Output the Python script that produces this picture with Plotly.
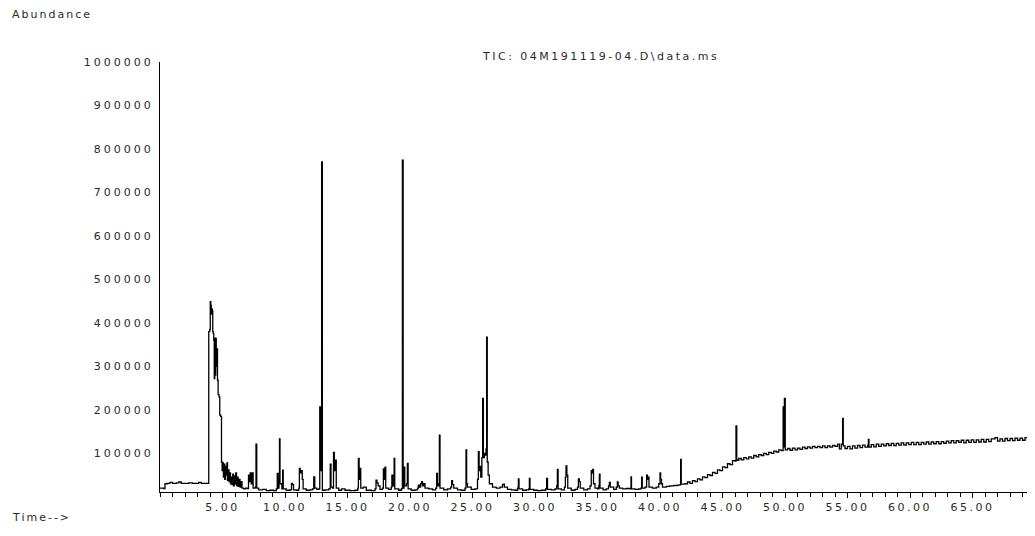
import plotly.graph_objects as go

# Retention time (min) and abundance (thousands of counts)
time_min = [
    0.0, 0.3, 0.4, 0.6, 0.8, 1.0, 1.3, 1.5, 1.7, 2.0, 2.3, 2.6, 2.9, 3.1, 3.3, 3.6, 3.85,
    3.9, 3.98, 4.02, 4.06, 4.1, 4.14, 4.18, 4.22, 4.26, 4.3, 4.34, 4.38, 4.42, 4.46, 4.5,
    4.55, 4.6, 4.65, 4.72, 4.78, 4.85, 4.92, 4.97, 5.02, 5.07, 5.12, 5.18, 5.24, 5.3,
    5.35, 5.4, 5.46, 5.52, 5.58, 5.64, 5.7, 5.76, 5.82, 5.88, 5.94, 6.0, 6.06, 6.12,
    6.18, 6.25, 6.32, 6.4, 6.48, 6.56, 6.7, 6.85, 7.0, 7.08, 7.15, 7.22, 7.3, 7.38,
    7.45, 7.62, 7.68, 7.74, 7.9, 8.2, 8.5, 8.8, 9.1, 9.3, 9.38, 9.45, 9.52, 9.56, 9.6,
    9.75, 9.81, 9.86, 10.1, 10.4, 10.52, 10.6, 10.68, 10.9, 11.1, 11.15, 11.22, 11.3,
    11.38, 11.45, 11.7, 12.0, 12.2, 12.3, 12.38, 12.55, 12.7, 12.78, 12.86, 12.93,
    12.99, 13.2, 13.5, 13.62, 13.68, 13.8, 13.88, 13.95, 14.02, 14.1, 14.3, 14.53,
    14.8, 15.2, 15.6, 15.82, 15.87, 15.93, 16.0, 16.06, 16.27, 16.5, 16.9, 17.2, 17.28,
    17.35, 17.45, 17.6, 17.8, 17.87, 17.93, 18.0, 18.06, 18.3, 18.5, 18.55, 18.62, 18.7,
    18.73, 18.78, 19.1, 19.3, 19.39, 19.45, 19.52, 19.58, 19.72, 19.79, 19.85, 20.1,
    20.4, 20.6, 20.67, 20.75, 20.85, 20.93, 21.0, 21.1, 21.2, 21.5, 21.8, 22.05, 22.13,
    22.2, 22.3, 22.35, 22.4, 22.7, 23.0, 23.25, 23.33, 23.4, 23.5, 23.8, 24.1, 24.4,
    24.48, 24.53, 24.6, 24.9, 25.2, 25.4, 25.47, 25.53, 25.6, 25.66, 25.75, 25.81,
    25.87, 25.95, 26.02, 26.08, 26.13, 26.18, 26.25, 26.35, 26.6, 26.9, 27.2, 27.4,
    27.47, 27.55, 27.8, 28.1, 28.4, 28.6, 28.67, 28.72, 29.0, 29.3, 29.5, 29.55, 29.6,
    29.9, 30.2, 30.5, 30.85, 30.93, 31.0, 31.3, 31.6, 31.73, 31.79, 31.85, 32.1, 32.35,
    32.43, 32.48, 32.55, 32.62, 32.9, 33.2, 33.4, 33.47, 33.55, 33.62, 33.9, 34.2, 34.4,
    34.5, 34.55, 34.61, 34.68, 34.8, 35.0, 35.1, 35.15, 35.2, 35.45, 35.7, 35.88, 35.95,
    36.02, 36.3, 36.5, 36.59, 36.65, 36.75, 37.0, 37.3, 37.6, 37.68, 37.72, 38.0, 38.3,
    38.48, 38.53, 38.58, 38.8, 38.93, 39.0, 39.05, 39.12, 39.4, 39.7, 39.9, 40.0, 40.05,
    40.12, 40.2, 40.5, 40.8, 41.1, 41.4, 41.6, 41.65, 41.7,
    42.0, 42.2, 42.4, 42.6, 42.8, 43.0, 43.2, 43.4, 43.6, 43.8, 44.0, 44.2, 44.4, 44.6,
    44.8, 45.0, 45.2, 45.4, 45.6, 45.8, 46.0, 46.08, 46.14, 46.3, 46.5, 46.7, 46.9, 47.1,
    47.3, 47.5, 47.7, 47.9, 48.1, 48.3, 48.5, 48.7, 48.9, 49.1, 49.3, 49.5, 49.7, 49.85,
    49.9, 49.95, 50.02, 50.2, 50.4, 50.6, 50.8, 51.0, 51.2, 51.4, 51.6, 51.8, 52.0, 52.2,
    52.4, 52.6, 52.8, 53.0, 53.2, 53.4, 53.6, 53.8, 54.0, 54.2, 54.35, 54.5, 54.61, 54.66,
    54.8, 55.0, 55.2, 55.4, 55.6, 55.8, 56.0, 56.2, 56.4, 56.62, 56.67, 56.72, 56.9, 57.1,
    57.3, 57.5, 57.7, 57.9, 58.1, 58.3, 58.5, 58.7, 58.9, 59.1, 59.3, 59.5, 59.7, 59.9,
    60.1, 60.3, 60.5, 60.7, 60.9, 61.1, 61.3, 61.5, 61.7, 61.9, 62.1, 62.3, 62.5, 62.7,
    62.9, 63.1, 63.3, 63.5, 63.7, 63.9, 64.1, 64.3, 64.5, 64.7, 64.9, 65.1, 65.3, 65.5,
    65.7, 65.9, 66.1, 66.3, 66.5, 66.8, 67.0, 67.2, 67.4, 67.6, 67.8, 68.0, 68.2, 68.4,
    68.6, 68.8, 69.0, 69.2, 69.4, 69.6, 69.8, 70.0,
]

abundance_k = [
    20, 19, 30, 31, 33, 31, 32, 34, 31, 31, 32, 31, 31, 33, 31, 31, 31,
    380, 385, 449, 440, 420, 432, 428, 380, 376, 360, 272, 365, 280, 364, 300,
    340, 268, 235, 230, 188, 185, 80, 60, 78, 45, 75, 40, 70, 50,
    78, 38, 62, 35, 55, 30, 45, 28, 52, 25, 48, 30, 55, 26,
    45, 24, 40, 22, 35, 20, 18, 20, 19, 50, 35, 55, 30, 55,
    20, 22, 121, 20, 16, 17, 14, 15, 14, 18, 54, 20, 40, 133, 30,
    18, 61, 18, 15, 16, 31, 28, 16, 15, 20, 65, 55, 60,
    40, 18, 15, 16, 18, 46, 20, 17, 18, 207, 60, 770,
    15, 16, 18, 75, 22, 20, 102, 60, 84, 20, 15, 18,
    15, 14, 15, 20, 88, 40, 65, 20, 22, 15, 14, 18, 38,
    32, 25, 17, 20, 64, 40, 68, 20, 17, 22, 50, 25, 30,
    88, 18, 15, 18, 774, 20, 68, 25, 30, 77, 18, 15,
    16, 20, 27, 22, 30, 35, 25, 30, 20, 18, 16, 20, 54,
    25, 30, 142, 20, 16, 18, 22, 37, 28, 20, 16, 15, 20,
    108, 30, 22, 17, 18, 40, 104, 60, 70, 45, 90, 226,
    90, 100, 96, 110, 367, 80, 50, 30, 22, 20, 22, 28,
    29, 22, 17, 16, 15, 20, 41, 18, 15, 16, 18, 42, 17,
    15, 14, 15, 18, 42, 17, 16, 18, 25, 63, 18, 16, 22,
    45, 71, 50, 20, 15, 17, 22, 41, 35, 20, 16, 18, 25,
    60, 55, 63, 30, 20, 18, 25, 52, 20, 16, 18, 25, 33,
    22, 17, 22, 34, 25, 20, 18, 19, 18, 46, 18, 17, 18,
    20, 45, 20, 22, 50, 40, 45, 22, 20, 22, 30, 55, 40,
    30, 22, 24, 25, 26, 27, 28, 86, 29,
    30, 34, 31, 37, 35, 41, 39, 46, 44, 51, 49, 56, 54, 62,
    60, 69, 67, 76, 74, 83, 82, 163, 84, 88, 85, 90, 87, 92,
    89, 95, 92, 97, 95, 100, 97, 102, 100, 105, 103, 108, 106, 207,
    115, 226, 108, 111, 107, 112, 108, 112, 109, 114, 111, 115, 112, 116,
    113, 116, 113, 117, 113, 117, 114, 118, 116, 121, 110, 121, 180, 117,
    111, 116, 110, 117, 112, 118, 113, 119, 114, 119, 132, 114, 120, 115,
    121, 116, 121, 117, 122, 118, 123, 118, 123, 119, 124, 119, 124, 120,
    125, 120, 125, 120, 125, 121, 126, 121, 126, 122, 127, 122, 127, 123,
    128, 124, 129, 124, 129, 125, 130, 124, 130, 125, 131, 125, 131, 126,
    132, 126, 132, 127, 133, 136, 128, 133, 128, 134, 129, 134, 129, 135,
    130, 135, 130, 136, 130, 136, 131, 134,
]

abundance = [v * 1000 for v in abundance_k]

x_tick_vals = [5, 10, 15, 20, 25, 30, 35, 40, 45, 50, 55, 60, 65]
x_tick_text = ["5.00", "10.00", "15.00", "20.00", "25.00", "30.00", "35.00",
               "40.00", "45.00", "50.00", "55.00", "60.00", "65.00"]
y_tick_vals = [100000, 200000, 300000, 400000, 500000, 600000, 700000,
               800000, 900000, 1000000]
y_tick_text = [str(v) for v in y_tick_vals]

title_text = "TIC: 04M191119-04.D\\data.ms"
y_label = "Abundance"
x_label = "Time-->"

SP = '<span style="letter-spacing:3px">{}</span>'
SP2 = '<span style="letter-spacing:2.5px">{}</span>'
SP3 = '<span style="letter-spacing:2px">{}</span>'

FONT = "DejaVu Sans"
TXT = "#2a2a2a"

# The page body adds an 8px offset; layout is expressed in figure pixels
OFF = 8
W, H = 1035, 536
L, T = 160 - OFF, 62 - OFF
R = W - (1035 - OFF)
B = H - (492 - OFF)
pw, ph = W - L - R, H - T - B

fig = go.Figure()
fig.add_trace(go.Scatter(
    x=time_min, y=abundance, mode="lines",
    line=dict(color="black", width=1.3, shape="hv"),
    hoverinfo="skip", showlegend=False,
))


def ann(text, sx, sy, anchor):
    fx, fy = sx - OFF, sy - OFF
    return dict(text=text, x=(fx - L) / pw, y=(H - B - fy) / ph,
                xref="paper", yref="paper", xanchor=anchor, yanchor="middle",
                showarrow=False, font=dict(family=FONT, size=11, color=TXT))


fig.update_layout(
    width=W, height=H,
    margin=dict(l=L, r=R, t=T, b=B, autoexpand=False),
    paper_bgcolor="white", plot_bgcolor="white",
    font=dict(family=FONT, size=11, color=TXT),
    xaxis=dict(
        range=[0, 70], showgrid=False, zeroline=False,
        showline=True, linecolor="black", linewidth=1,
        tickmode="array", tickvals=x_tick_vals,
        ticktext=[SP2.format(t) for t in x_tick_text],
        ticks="outside", ticklen=5, tickcolor="black", tickwidth=1,
        minor=dict(dtick=1, tick0=0, ticks="outside", ticklen=4,
                   tickcolor="black", tickwidth=1, showgrid=False),
        tickfont=dict(family=FONT, size=11, color=TXT),
    ),
    yaxis=dict(
        range=[11000, 1000000], showgrid=False, zeroline=False,
        showline=True, linecolor="black", linewidth=1,
        tickmode="array", tickvals=y_tick_vals,
        ticktext=[SP.format(t) for t in y_tick_text],
        ticks="", ticklabelstandoff=3,
        tickfont=dict(family=FONT, size=11, color=TXT),
    ),
    annotations=[
        ann(SP2.format(title_text), 600, 57, "center"),
        ann(SP3.format(y_label), 10, 15, "left"),
        ann(SP3.format(x_label), 10, 517, "left"),
    ],
)

fig.write_html("out.html")
